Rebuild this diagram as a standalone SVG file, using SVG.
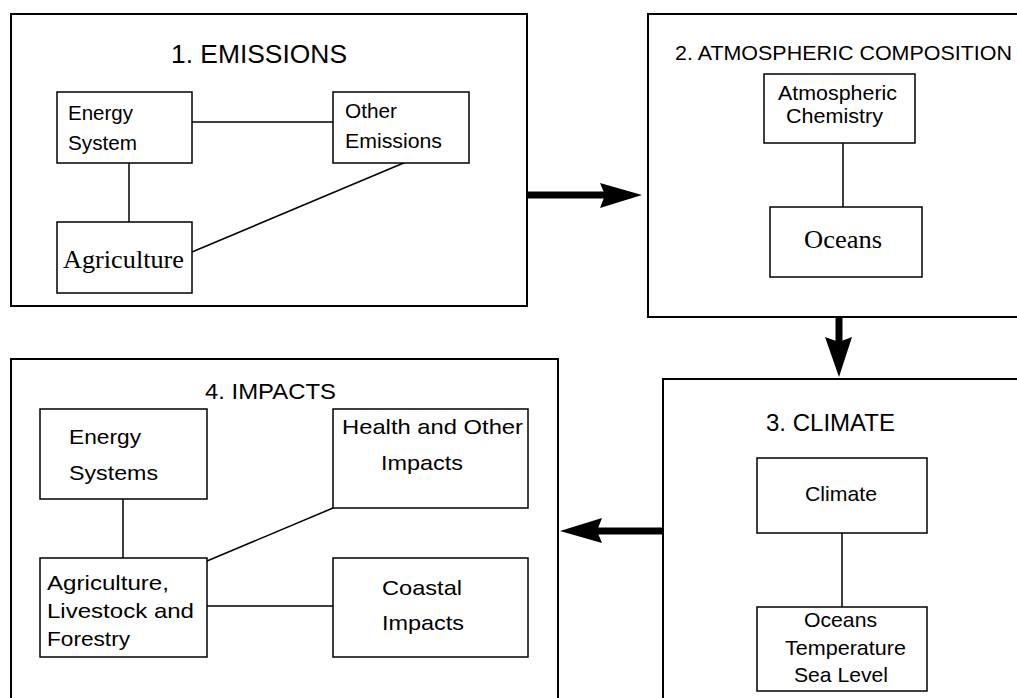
<svg xmlns="http://www.w3.org/2000/svg" width="1017" height="698" viewBox="0 0 1017 698">
<style>
.outer{fill:#fff;stroke:#000;stroke-width:2}
.inner{fill:#fff;stroke:#000;stroke-width:1.5}
.link{stroke:#000;stroke-width:1.5;fill:none}
.shaft{stroke:#000;stroke-width:7;fill:none}
.head{fill:#000;stroke:none}
.s{font-family:"Liberation Sans",Arial,sans-serif;fill:#000}
.t{font-family:"Liberation Serif","Times New Roman",serif;fill:#000}
</style>
<rect width="1017" height="698" fill="#fff"/>
<g id="box1">
<rect class="outer" x="11" y="14" width="516" height="292"/>
<text class="s" x="171" y="63" font-size="25" textLength="176" lengthAdjust="spacingAndGlyphs">1. EMISSIONS</text>
</g>
<g id="box2">
<rect class="outer" x="648" y="14" width="400" height="303"/>
<text class="s" x="675" y="60" font-size="21" textLength="337" lengthAdjust="spacingAndGlyphs">2. ATMOSPHERIC COMPOSITION</text>
</g>
<g id="box3">
<rect class="outer" x="663" y="379" width="400" height="340"/>
<text class="s" x="766" y="431" font-size="24" textLength="129" lengthAdjust="spacingAndGlyphs">3. CLIMATE</text>
</g>
<g id="box4">
<rect class="outer" x="11" y="359" width="547" height="360"/>
<text class="s" x="205" y="399" font-size="22" textLength="131" lengthAdjust="spacingAndGlyphs">4. IMPACTS</text>
</g>
<g id="connectors">
<line class="link" x1="192" y1="122" x2="333" y2="122"/>
<line class="link" x1="129" y1="163" x2="129" y2="222"/>
<line class="link" x1="192" y1="252" x2="406" y2="162"/>
<line class="link" x1="843" y1="143" x2="843" y2="207"/>
<line class="link" x1="842" y1="533" x2="842" y2="607"/>
<line class="link" x1="123" y1="499" x2="123" y2="558"/>
<line class="link" x1="207" y1="561" x2="333" y2="508"/>
<line class="link" x1="207" y1="606" x2="333" y2="606"/>
<line class="shaft" x1="527" y1="195" x2="605" y2="195"/>
<path class="head" d="M642,195 L600,183 L605,195 L600,208 Z"/>
<line class="shaft" x1="839" y1="317" x2="839" y2="342"/>
<path class="head" d="M839,377 L825,337 L839,342 L852,337 Z"/>
<line class="shaft" x1="663" y1="531" x2="597" y2="531"/>
<path class="head" d="M560,531 L602,518 L597,531 L602,543 Z"/>
</g>
<g id="energy-system">
<rect class="inner" x="57" y="92" width="135" height="71"/>
<text class="s" x="68" y="120" font-size="20" textLength="65" lengthAdjust="spacingAndGlyphs">Energy</text>
<text class="s" x="68" y="150" font-size="20" textLength="69" lengthAdjust="spacingAndGlyphs">System</text>
</g>
<g id="other-emissions">
<rect class="inner" x="333" y="92" width="136" height="71"/>
<text class="s" x="345" y="118" font-size="20" textLength="52" lengthAdjust="spacingAndGlyphs">Other</text>
<text class="s" x="345" y="148" font-size="20" textLength="97" lengthAdjust="spacingAndGlyphs">Emissions</text>
</g>
<g id="agriculture">
<rect class="inner" x="57" y="222" width="135" height="71"/>
<text class="t" x="63" y="268" font-size="26" textLength="121" lengthAdjust="spacingAndGlyphs">Agriculture</text>
</g>
<g id="atmospheric-chemistry">
<rect class="inner" x="764" y="74" width="151" height="69"/>
<text class="s" x="778" y="100" font-size="21" textLength="119" lengthAdjust="spacingAndGlyphs">Atmospheric</text>
<text class="s" x="786" y="123" font-size="21" textLength="97" lengthAdjust="spacingAndGlyphs">Chemistry</text>
</g>
<g id="oceans">
<rect class="inner" x="770" y="207" width="152" height="70"/>
<text class="t" x="804" y="248" font-size="26" textLength="78" lengthAdjust="spacingAndGlyphs">Oceans</text>
</g>
<g id="climate">
<rect class="inner" x="757" y="458" width="170" height="75"/>
<text class="s" x="805" y="501" font-size="21" textLength="72" lengthAdjust="spacingAndGlyphs">Climate</text>
</g>
<g id="oceans-temp-sea">
<rect class="inner" x="757" y="607" width="170" height="84"/>
<text class="s" x="804" y="627" font-size="21" textLength="73" lengthAdjust="spacingAndGlyphs">Oceans</text>
<text class="s" x="785" y="655" font-size="21" textLength="121" lengthAdjust="spacingAndGlyphs">Temperature</text>
<text class="s" x="794" y="682" font-size="21" textLength="94" lengthAdjust="spacingAndGlyphs">Sea Level</text>
</g>
<g id="energy-systems">
<rect class="inner" x="40" y="409" width="167" height="90"/>
<text class="s" x="69" y="444" font-size="21" textLength="72" lengthAdjust="spacingAndGlyphs">Energy</text>
<text class="s" x="69" y="480" font-size="21" textLength="89" lengthAdjust="spacingAndGlyphs">Systems</text>
</g>
<g id="health">
<rect class="inner" x="333" y="409" width="195" height="99"/>
<text class="s" x="342" y="434" font-size="21" textLength="181" lengthAdjust="spacingAndGlyphs">Health and Other</text>
<text class="s" x="381" y="470" font-size="21" textLength="82" lengthAdjust="spacingAndGlyphs">Impacts</text>
</g>
<g id="agri-livestock-forestry">
<rect class="inner" x="40" y="558" width="167" height="99"/>
<text class="s" x="47" y="590" font-size="21" textLength="122" lengthAdjust="spacingAndGlyphs">Agriculture,</text>
<text class="s" x="47" y="618" font-size="21" textLength="147" lengthAdjust="spacingAndGlyphs">Livestock and</text>
<text class="s" x="47" y="646" font-size="21" textLength="83" lengthAdjust="spacingAndGlyphs">Forestry</text>
</g>
<g id="coastal">
<rect class="inner" x="333" y="558" width="195" height="99"/>
<text class="s" x="382" y="595" font-size="21" textLength="80" lengthAdjust="spacingAndGlyphs">Coastal</text>
<text class="s" x="382" y="630" font-size="21" textLength="82" lengthAdjust="spacingAndGlyphs">Impacts</text>
</g>
</svg>
